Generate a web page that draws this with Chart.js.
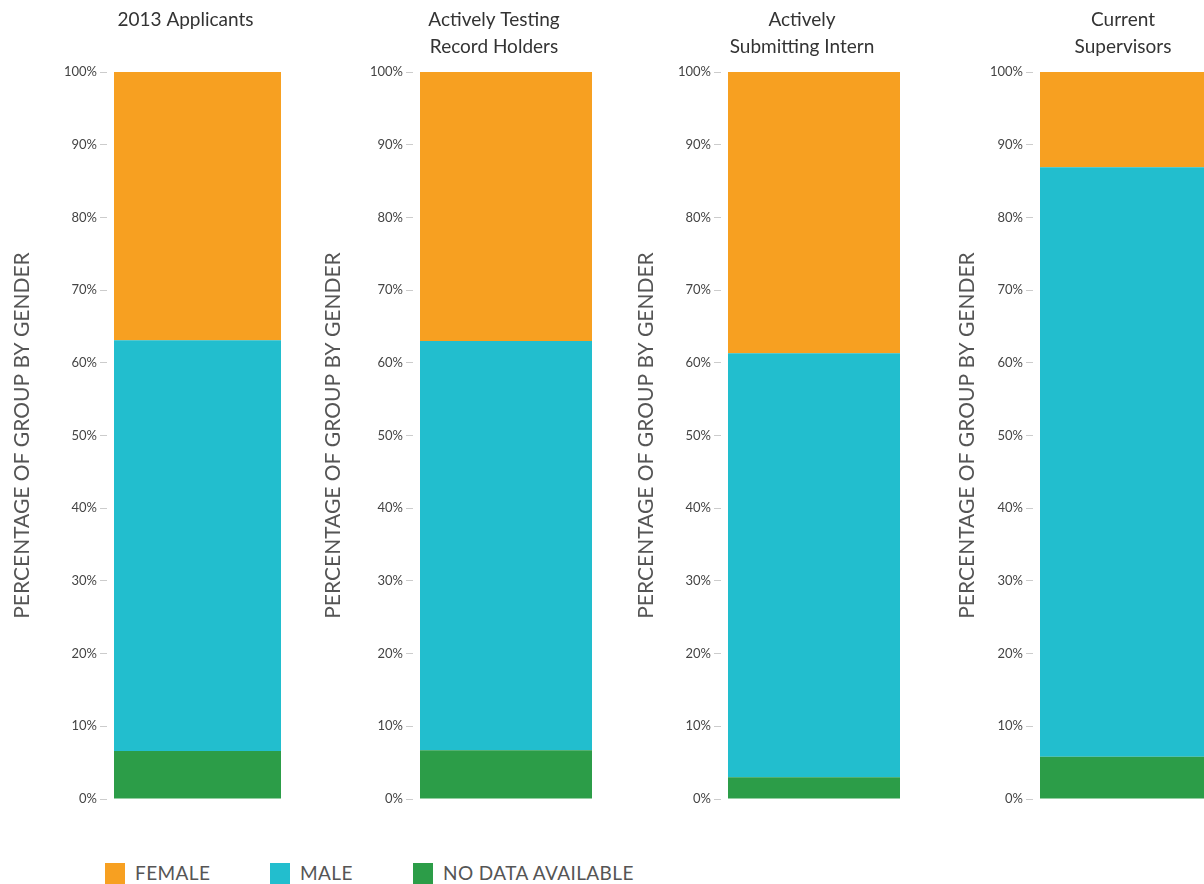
<!DOCTYPE html>
<html>
<head>
<meta charset="utf-8">
<script src="https://cdn.jsdelivr.net/npm/chart.js@4/dist/chart.umd.min.js"></script>
<style>
  html, body { margin: 0; padding: 0; background: #fff; overflow: hidden; }
  body { width: 1204px; height: 884px; position: relative; font-family: Lato, "Open Sans", sans-serif; }
  .panel { position: absolute; top: 0; height: 830px; }
  .legend { position: absolute; top: 862px; left: 0; width: 1204px; height: 30px; }
  .legend span.item { position: absolute; top: 0; font-size: 19px; letter-spacing: 0.4px; color: #555; line-height: 22px; white-space: nowrap; }
  .legend i { position: absolute; left: 0; top: 1px; width: 20px; height: 21px; }
  .legend b { font-weight: normal; margin-left: 30px; }
</style>
</head>
<body>
<div id="p0" class="panel"><canvas id="c0"></canvas></div>
<div id="p1" class="panel"><canvas id="c1"></canvas></div>
<div id="p2" class="panel"><canvas id="c2"></canvas></div>
<div id="p3" class="panel"><canvas id="c3"></canvas></div>
<div class="legend" id="legend"></div>
<script>
// data (percent of each group)
const groups = ['2013 Applicants', 'Actively Testing Record Holders', 'Actively Submitting Intern', 'Current Supervisors'];
const titleLines = [['2013 Applicants'], ['Actively Testing', 'Record Holders'], ['Actively', 'Submitting Intern'], ['Current', 'Supervisors']];
const female = [36.9, 37.0, 38.7, 13.1];
const male = [56.5, 56.3, 58.3, 81.1];
const noData = [6.6, 6.7, 3.0, 5.8];
const yMax = 100;
const yStep = 10;

const COLORS = { female: '#F7A021', male: '#22BECE', noData: '#2C9D48' };

// panel geometry: canvas left, y axis width, bar width, title shift
const panels = [
  { left: 9, axisW: 98, barW: 167, titleDx: -12 },
  { left: 320, axisW: 93, barW: 172, titleDx: -12 },
  { left: 633, axisW: 88, barW: 172, titleDx: -12 },
  { left: 954, axisW: 79, barW: 172, titleDx: -3 }
];
const gap = 7;

const panelTitle = {
  id: 'panelTitle',
  afterDraw(chart, args, opts) {
    const {ctx, chartArea} = chart;
    const cx = (chartArea.left + chartArea.right) / 2 + opts.dx;
    ctx.save();
    ctx.font = '19px Lato, "Open Sans", sans-serif';
    ctx.fillStyle = '#333';
    ctx.textAlign = 'center';
    ctx.textBaseline = 'middle';
    opts.lines.forEach((l, i) => ctx.fillText(l, cx, 20 + i * 27));
    ctx.restore();
  }
};

groups.forEach((g, i) => {
  const p = panels[i];
  const areaW = p.barW + gap * 2;
  const div = document.getElementById('p' + i);
  div.style.left = p.left + 'px';
  div.style.width = (p.axisW + areaW) + 'px';

  new Chart(document.getElementById('c' + i), {
    type: 'bar',
    data: {
      labels: [g],
      datasets: [
        { label: 'NO DATA AVAILABLE', data: [noData[i]], backgroundColor: COLORS.noData },
        { label: 'MALE', data: [male[i]], backgroundColor: COLORS.male },
        { label: 'FEMALE', data: [female[i]], backgroundColor: COLORS.female }
      ]
    },
    options: {
      responsive: true,
      maintainAspectRatio: false,
      animation: false,
      layout: { padding: { top: 72, bottom: 31, left: 0, right: 0 } },
      datasets: { bar: { barPercentage: p.barW / areaW, categoryPercentage: 1, borderWidth: 0 } },
      scales: {
        x: { stacked: true, display: false },
        y: {
          stacked: true,
          min: 0,
          max: yMax,
          afterFit: (s) => { s.width = p.axisW; },
          border: { display: false },
          grid: { drawOnChartArea: false, drawTicks: true, tickLength: 7, color: '#ccc' },
          ticks: {
            stepSize: yStep,
            padding: 3,
            color: '#444',
            font: { family: 'Lato, "Open Sans", sans-serif', size: 13 },
            callback: (v) => v + '%'
          },
          title: {
            display: true,
            text: 'PERCENTAGE OF GROUP BY GENDER',
            color: '#555',
            padding: { top: 1, bottom: 0 },
            font: { family: 'Lato, "Open Sans", sans-serif', size: 21, lineHeight: 1.2 }
          }
        }
      },
      plugins: {
        legend: { display: false },
        tooltip: { enabled: false },
        panelTitle: { lines: titleLines[i], dx: p.titleDx }
      }
    },
    plugins: [panelTitle]
  });
});

// legend built from the series
const legendItems = [
  { label: 'FEMALE', color: COLORS.female, x: 105 },
  { label: 'MALE', color: COLORS.male, x: 270 },
  { label: 'NO DATA AVAILABLE', color: COLORS.noData, x: 413 }
];
const leg = document.getElementById('legend');
legendItems.forEach(it => {
  const s = document.createElement('span');
  s.className = 'item';
  s.style.left = it.x + 'px';
  s.innerHTML = '<i style="background:' + it.color + '"></i><b>' + it.label + '</b>';
  leg.appendChild(s);
});
</script>
</body>
</html>
